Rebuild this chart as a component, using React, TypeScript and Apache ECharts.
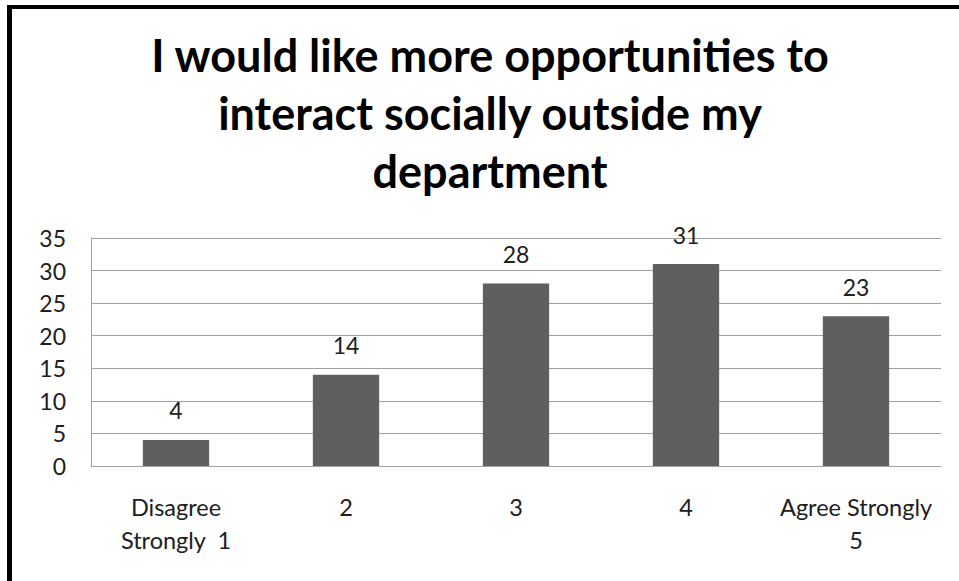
import React, { useEffect, useRef } from "react";
import * as echarts from "echarts";

const titleLines = [
  "I would like more opportunities to",
  "interact socially outside my",
  "department",
];
const categories = ["Disagree\nStrongly  1", "2", "3", "4", "Agree Strongly\n5"];
const values = [4, 14, 28, 31, 23];
const yMin = 0;
const yMax = 35;
const yStep = 5;

export default function App() {
  const ref = useRef<HTMLDivElement>(null);
  useEffect(() => {
    if (!ref.current) return;
    const chart = echarts.init(ref.current, null, { renderer: "svg" });
    const font = "Lato, 'Open Sans', sans-serif";
    chart.setOption({
      animation: false,
      backgroundColor: "#ffffff",
      title: {
        text: titleLines.join("\n"),
        left: 485,
        top: 21,
        textAlign: "center",
        textStyle: {
          fontFamily: font,
          fontWeight: "bold",
          fontSize: 45,
          lineHeight: 58,
          color: "#000000",
        },
      },
      graphic: [
        { type: "rect", shape: { x: 7, y: 5, width: 5, height: 600 }, style: { fill: "#000" }, silent: true },
        { type: "rect", shape: { x: 7, y: 5, width: 1000, height: 4 }, style: { fill: "#000" }, silent: true },
      ],
      grid: { left: 91, right: 18, top: 238, bottom: 115, containLabel: false },
      xAxis: {
        type: "category",
        data: categories,
        axisLine: { show: true, lineStyle: { color: "#a0a0a0", width: 1 } },
        axisTick: { show: false },
        axisLabel: {
          interval: 0,
          margin: 24,
          fontFamily: font,
          fontSize: 23.5,
          lineHeight: 33,
          color: "#202020",
        },
      },
      yAxis: {
        type: "value",
        min: yMin,
        max: yMax,
        interval: yStep,
        axisLine: { show: true, lineStyle: { color: "#a0a0a0", width: 1 } },
        axisTick: { show: false },
        splitLine: { show: true, lineStyle: { color: "#a0a0a0", width: 1 } },
        axisLabel: {
          margin: 25,
          fontFamily: font,
          fontSize: 23,
          color: "#202020",
        },
      },
      series: [
        {
          type: "bar",
          data: values,
          barWidth: "39%",
          itemStyle: { color: "#5f5f5f" },
          label: {
            show: true,
            position: "top",
            distance: 18,
            fontFamily: font,
            fontSize: 23,
            color: "#202020",
          },
        },
      ],
    });
    return () => chart.dispose();
  }, []);
  return (
    <div
      ref={ref}
      style={{ position: "absolute", left: 0, top: 0, width: 959, height: 581 }}
    />
  );
}
